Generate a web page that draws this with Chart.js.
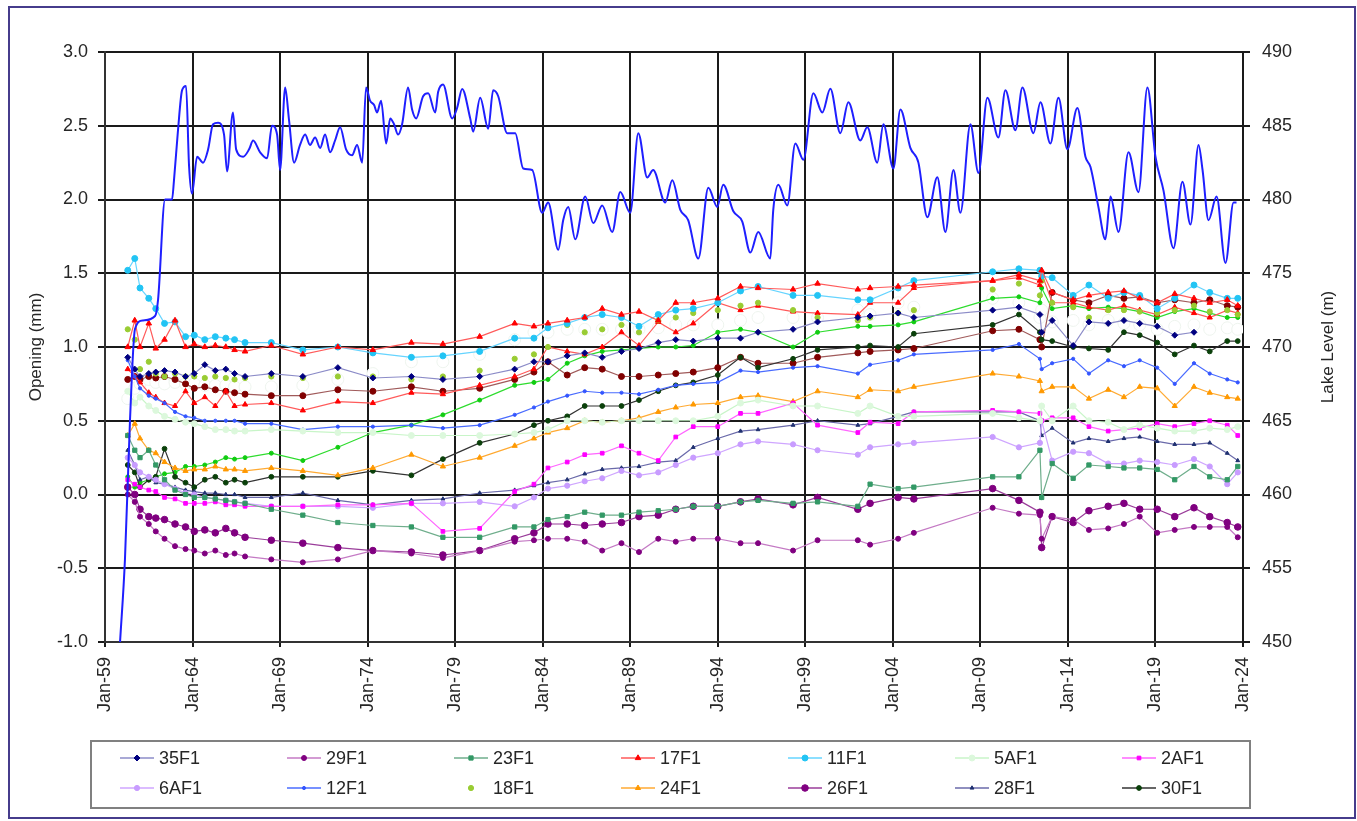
<!DOCTYPE html>
<html>
<head>
<meta charset="utf-8">
<title>Joint opening and lake level</title>
<script src="https://cdn.jsdelivr.net/npm/chart.js@4.4.1/dist/chart.umd.min.js"></script>
<style>
  html, body { margin: 0; padding: 0; background: #fff; }
  canvas { position: absolute; left: 0; top: 0; }
  #frame { position: absolute; left: 8px; top: 6px; width: 1348px; height: 813px; box-sizing: border-box; border: 2px solid #463c8c; pointer-events: none; }
</style>
</head>
<body>
<canvas id="openingChart" width="1357" height="821"></canvas>
<div id="frame"></div>
<script>
// survey dates (decimal years) shared by all the gauges
const surveyDates = [1960.3, 1960.7, 1961.0, 1961.5, 1961.9, 1962.4, 1963.0, 1963.6, 1964.1, 1964.7, 1965.3, 1965.9, 1966.4, 1967.0,
  1968.5, 1970.3, 1972.3, 1974.3, 1976.5, 1978.3, 1980.4, 1982.4, 1983.5, 1984.3, 1985.4, 1986.4, 1987.4, 1988.5, 1989.5, 1990.6,
  1991.6, 1992.6, 1994.0, 1995.3, 1996.3, 1998.3, 1999.7, 2002.0, 2002.7, 2004.3, 2005.2, 2009.7, 2011.2,
  2012.4, 2012.5,
  2013.1, 2014.3, 2015.2, 2016.3, 2017.2, 2018.1, 2019.1, 2020.1, 2021.2, 2022.1, 2023.1, 2023.7];

// opening (mm)
const op35F1 = [0.93, 0.85, 0.80, 0.82, 0.83, 0.84, 0.83, 0.80, 0.82, 0.88, 0.84, 0.85, 0.82, 0.80,
  0.82, 0.80, 0.86, 0.79, 0.80, 0.78, 0.80, 0.85, 0.90, 0.90, 0.94, 0.96, 0.93, 0.97, 0.99, 1.03, 1.05, 1.04, 1.06, 1.06, 1.10, 1.12, 1.17, 1.20, 1.21, 1.23, 1.20, 1.25, 1.27,
  1.22, 1.10,
  1.18, 1.01, 1.17, 1.16, 1.18, 1.16, 1.14, 1.08, 1.10, null, null, null];
const op29F1 = [0.00, -0.05, -0.15, -0.20, -0.25, -0.30, -0.35, -0.37, -0.38, -0.40, -0.38, -0.41, -0.40, -0.42,
  -0.44, -0.46, -0.44, -0.38, -0.40, -0.43, -0.38, -0.32, -0.31, -0.30, -0.30, -0.32, -0.38, -0.33, -0.39, -0.30, -0.32, -0.30, -0.30, -0.33, -0.33, -0.38, -0.31, -0.31, -0.34, -0.30, -0.26, -0.09, -0.13,
  -0.14, -0.30,
  -0.15, -0.17, -0.24, -0.23, -0.20, -0.15, -0.26, -0.24, -0.22, -0.22, -0.22, -0.29];
const op23F1 = [0.40, 0.30, 0.25, 0.30, 0.20, 0.10, 0.03, 0.00, -0.02, -0.02, -0.03, -0.04, -0.05, -0.06,
  -0.10, -0.14, -0.19, -0.21, -0.22, -0.29, -0.29, -0.22, -0.22, -0.17, -0.15, -0.12, -0.14, -0.14, -0.12, -0.11, -0.10, -0.08, -0.08, -0.05, -0.04, -0.06, -0.05, -0.08, 0.07, 0.04, 0.05, 0.12, 0.12,
  0.30, -0.02,
  0.21, 0.11, 0.20, 0.19, 0.18, 0.18, 0.17, 0.10, 0.19, 0.12, 0.10, 0.19];
const op17F1 = [1.00, 1.18, 1.00, 1.16, 0.99, 1.05, 1.18, 1.00, 1.02, 1.00, 1.01, 1.00, 0.98, 0.97,
  1.01, 0.95, 1.00, 0.98, 1.03, 1.02, 1.07, 1.16, 1.14, 1.16, 1.18, 1.20, 1.26, 1.22, 1.24, 1.18, 1.30, 1.30, 1.33, 1.41, 1.40, 1.39, 1.43, 1.39, 1.40, 1.41, 1.42, 1.45, 1.49,
  1.45, 1.52,
  1.37, 1.32, 1.35, 1.37, 1.38, 1.33, 1.30, 1.36, 1.33, 1.30, 1.32, 1.28];
const op11F1 = [1.52, 1.60, 1.40, 1.33, 1.26, 1.16, 1.17, 1.07, 1.08, 1.05, 1.07, 1.06, 1.05, 1.03,
  1.03, 0.98, 1.00, 0.96, 0.93, 0.94, 0.97, 1.06, 1.06, 1.13, 1.16, 1.20, 1.22, 1.20, 1.14, 1.22, 1.25, 1.26, 1.30, 1.38, 1.41, 1.35, 1.35, 1.32, 1.32, 1.40, 1.45, 1.51, 1.53,
  1.52, 1.48,
  1.47, 1.35, 1.42, 1.33, 1.37, 1.35, 1.26, 1.33, 1.42, 1.37, 1.33, 1.33];
const op5AF1 = [0.70, 0.62, 0.66, 0.60, 0.57, 0.53, 0.51, 0.49, 0.48, 0.46, 0.44, 0.44, 0.43, 0.43,
  0.44, 0.43, 0.42, 0.42, 0.40, 0.40, 0.40, 0.41, 0.42, 0.44, 0.50, 0.50, 0.49, 0.50, 0.50, 0.50, 0.50, 0.50, 0.53, 0.62, 0.64, 0.60, 0.60, 0.55, 0.60, 0.53, 0.53, 0.55, 0.52,
  0.50, 0.60,
  0.50, 0.60, 0.50, 0.49, 0.44, 0.47, 0.45, 0.43, 0.43, 0.45, 0.44, 0.46];
const op2AF1 = [0.10, 0.07, 0.05, 0.03, 0.02, -0.02, -0.03, -0.06, -0.06, -0.06, -0.05, -0.07, -0.07, -0.08,
  -0.08, -0.08, -0.07, -0.07, -0.06, -0.25, -0.23, 0.02, 0.07, 0.18, 0.22, 0.27, 0.28, 0.33, 0.28, 0.23, 0.39, 0.46, 0.46, 0.55, 0.55, 0.62, 0.47, 0.42, 0.49, 0.48, 0.56, 0.57, 0.56,
  0.55, 0.50,
  0.52, 0.52, 0.46, 0.43, 0.44, 0.45, 0.48, 0.46, 0.48, 0.50, 0.47, 0.40];
const op6AF1 = [0.25, 0.20, 0.15, 0.12, 0.10, 0.07, 0.04, 0.01, 0.00, -0.02, -0.03, -0.04, -0.05, -0.06,
  -0.08, -0.08, -0.08, -0.09, -0.06, -0.06, -0.05, -0.08, -0.02, 0.04, 0.06, 0.09, 0.11, 0.16, 0.13, 0.15, 0.20, 0.25, 0.28, 0.34, 0.36, 0.34, 0.30, 0.27, 0.32, 0.34, 0.35, 0.39, 0.32,
  0.35, 0.50,
  0.23, 0.29, 0.28, 0.21, 0.21, 0.23, 0.22, 0.20, 0.24, 0.19, 0.07, 0.15];
const op12F1 = [0.91, 0.80, 0.72, 0.67, 0.65, 0.62, 0.56, 0.53, 0.52, 0.50, 0.50, 0.50, 0.50, 0.48,
  0.48, 0.44, 0.46, 0.46, 0.47, 0.45, 0.47, 0.54, 0.59, 0.63, 0.67, 0.70, 0.69, 0.69, 0.68, 0.71, 0.74, 0.75, 0.76, 0.84, 0.83, 0.86, 0.87, 0.82, 0.88, 0.91, 0.95, 0.98, 1.02,
  0.92, 0.85,
  0.89, 0.92, 0.82, 0.91, 0.87, 0.91, 0.86, 0.75, 0.89, 0.82, 0.78, 0.76];
const op18F1 = [1.12, 1.05, 0.85, 0.90, 0.82, 0.80, 0.82, 0.80, 0.80, 0.79, 0.80, 0.79, 0.78, 0.79,
  0.80, 0.79, 0.80, 0.80, 0.78, 0.80, 0.84, 0.92, 0.95, 1.00, 1.15, 1.10, 1.12, 1.15, 1.10, 1.18, 1.20, 1.23, 1.25, 1.28, 1.30, 1.25, 1.20, 1.18, 1.20, 1.23, 1.25, 1.39, 1.43,
  1.35, 1.45,
  1.30, 1.27, 1.20, 1.25, 1.25, 1.24, 1.23, 1.25, 1.28, 1.24, 1.25, 1.22];
const op24F1 = [0.40, 0.48, 0.38, 0.30, 0.28, 0.22, 0.18, 0.16, 0.17, 0.17, 0.19, 0.17, 0.17, 0.16,
  0.18, 0.16, 0.13, 0.18, 0.27, 0.19, 0.25, 0.33, 0.38, 0.42, 0.45, 0.50, 0.49, 0.50, 0.52, 0.56, 0.59, 0.61, 0.62, 0.66, 0.67, 0.63, 0.70, 0.66, 0.71, 0.70, 0.73, 0.82, 0.80,
  0.77, 0.70,
  0.73, 0.73, 0.65, 0.71, 0.66, 0.73, 0.72, 0.60, 0.73, 0.69, 0.66, 0.65];
const op26F1 = [0.05, 0.00, -0.10, -0.15, -0.16, -0.17, -0.20, -0.22, -0.25, -0.24, -0.26, -0.23, -0.26, -0.29,
  -0.31, -0.33, -0.36, -0.38, -0.39, -0.41, -0.38, -0.30, -0.26, -0.20, -0.20, -0.21, -0.20, -0.19, -0.15, -0.14, -0.10, -0.08, -0.08, -0.05, -0.03, -0.07, -0.02, -0.10, -0.06, -0.02, -0.03, 0.04, -0.04,
  -0.12, -0.36,
  -0.15, -0.19, -0.11, -0.08, -0.06, -0.10, -0.10, -0.15, -0.09, -0.15, -0.19, -0.22];
const op28F1 = [0.30, 0.20, 0.10, 0.12, 0.08, 0.07, 0.05, 0.03, 0.02, 0.01, 0.01, 0.00, 0.00, -0.02,
  -0.02, 0.01, -0.04, -0.07, -0.04, -0.03, 0.01, 0.03, 0.06, 0.08, 0.10, 0.14, 0.17, 0.18, 0.19, 0.22, 0.23, 0.32, 0.38, 0.43, 0.44, 0.47, 0.50, 0.47, 0.48, 0.53, 0.56, 0.56, 0.56,
  0.50, 0.40,
  0.45, 0.35, 0.38, 0.36, 0.38, 0.39, 0.36, 0.34, 0.34, 0.35, 0.28, 0.23];
const op30F1 = [0.20, 0.15, 0.05, 0.10, 0.12, 0.31, 0.12, 0.08, 0.05, 0.10, 0.12, 0.08, 0.10, 0.08,
  0.12, 0.12, 0.12, 0.16, 0.13, 0.24, 0.35, 0.41, 0.47, 0.50, 0.53, 0.60, 0.60, 0.60, 0.64, 0.70, 0.74, 0.76, 0.81, 0.93, 0.86, 0.92, 0.98, 1.00, 1.01, 1.00, 1.09, 1.15, 1.22,
  1.10, 1.05,
  1.04, 1.00, 0.99, 0.98, 1.10, 1.08, 1.03, 0.95, 1.01, 0.97, 1.04, 1.04];
// gauges plotted in the figure but missing from its legend
const opRedLow = [0.85, 0.80, 0.76, 0.69, 0.66, 0.62, 0.60, 0.70, 0.62, 0.66, 0.60, 0.70, 0.60, 0.61,
  0.62, 0.57, 0.63, 0.62, 0.69, 0.68, 0.74, 0.80, 0.85, 1.00, 0.97, 0.95, 1.00, 1.10, 1.01, 1.17, 1.10, 1.16, 1.30, 1.25, 1.28, 1.24, 1.23, 1.22, 1.30, 1.30, 1.40, 1.45, 1.47,
  1.42, 1.50,
  1.30, 1.30, 1.27, 1.25, 1.28, 1.25, 1.22, 1.27, 1.23, 1.20, 1.25, 1.23];
const opMaroon = [0.78, 0.80, 0.78, 0.80, 0.79, 0.80, 0.78, 0.75, 0.72, 0.73, 0.71, 0.70, 0.69, 0.68,
  0.67, 0.67, 0.71, 0.70, 0.73, 0.70, 0.72, 0.78, 0.83, 0.90, 0.81, 0.86, 0.85, 0.80, 0.80, 0.81, 0.82, 0.83, 0.86, 0.93, 0.89, 0.89, 0.93, 0.96, 0.97, 0.98, 0.99, 1.11, 1.12,
  1.05, 1.00,
  1.37, 1.32, 1.30, 1.35, 1.33, 1.34, 1.30, 1.32, 1.30, 1.32, 1.28, 1.27];
const opLime = [0.12, 0.05, 0.08, 0.10, 0.12, 0.14, 0.15, 0.19, 0.19, 0.20, 0.22, 0.25, 0.24, 0.25,
  0.28, 0.23, 0.32, 0.42, 0.47, 0.54, 0.64, 0.74, 0.76, 0.78, 0.89, 0.94, 0.97, 0.98, 0.99, 1.00, 1.00, 1.01, 1.10, 1.12, 1.10, 1.00, 1.10, 1.14, 1.14, 1.15, 1.17, 1.33, 1.34,
  1.30, 1.40,
  1.26, 1.28, 1.26, 1.27, 1.26, 1.24, 1.20, 1.24, 1.26, 1.23, 1.20, 1.20];
const opWhite = [0.65, 0.72, 0.75, 0.78, 0.76, 0.75, 0.76, 0.75, 0.75, 0.74, 0.74, 0.74, 0.73, 0.73,
  0.73, 0.74, 0.78, 0.82, 0.90, 0.90, 0.95, 1.05, 1.10, 1.10, 1.12, 1.12, 1.12, 1.12, 1.12, 1.13, 1.15, 1.15, 1.15, 1.18, 1.20, 1.20, 1.20, 1.25, 1.22, 1.30, 1.27, 1.33, 1.30,
  1.20, 1.25,
  1.17, 1.18, 1.15, 1.18, 1.16, 1.15, 1.12, 1.14, 1.15, 1.12, 1.13, 1.12];

// reservoir level (m), right axis
const lakeDates = [1959.86, 1960.14, 1960.43, 1960.71, 1961.17, 1961.86, 1962.03, 1962.43, 1962.83, 1962.94,
  1963.17, 1963.40, 1963.63, 1963.80, 1963.97, 1964.26, 1964.60, 1964.89, 1965.17, 1965.46,
  1965.80, 1965.97, 1966.31, 1966.49, 1966.89, 1967.23, 1967.46, 1967.86, 1968.26, 1968.54,
  1968.83, 1969.00, 1969.29, 1969.51, 1969.80, 1970.14, 1970.43, 1970.71, 1971.00, 1971.29,
  1971.57, 1971.86, 1972.14, 1972.43, 1972.77, 1973.11, 1973.40, 1973.69, 1973.91, 1974.14,
  1974.37, 1974.54, 1974.77, 1975.06, 1975.29, 1975.51, 1975.74, 1975.97, 1976.31, 1976.54,
  1976.77, 1977.17, 1977.46, 1977.86, 1978.03, 1978.31, 1978.83, 1979.11, 1979.40, 1979.86,
  1980.03, 1980.43, 1980.89, 1981.17, 1981.46, 1981.97, 1982.43, 1982.89, 1983.40, 1983.97,
  1984.31, 1984.89, 1985.17, 1985.46, 1985.86, 1986.43, 1986.89, 1987.40, 1987.97, 1988.43,
  1989.00, 1989.46, 1989.97, 1990.31, 1991.00, 1991.40, 1991.86, 1992.31, 1992.89, 1993.46,
  1993.97, 1994.31, 1994.89, 1995.40, 1995.86, 1996.31, 1997.00, 1997.17, 1997.46, 1997.97,
  1998.43, 1998.89, 1999.46, 1999.97, 2000.43, 2001.00, 2001.46, 2002.14, 2002.54, 2003.11,
  2003.46, 2004.03, 2004.43, 2005.00, 2005.46, 2005.97, 2006.54, 2007.00, 2007.46, 2007.86,
  2008.43, 2008.89, 2009.40, 2010.03, 2010.43, 2011.00, 2011.40, 2012.03, 2012.43, 2013.00,
  2013.46, 2013.97, 2014.54, 2015.00, 2015.29, 2015.74, 2016.14, 2016.43, 2016.89, 2017.46,
  2018.03, 2018.54, 2019.00, 2019.46, 2020.03, 2020.54, 2021.00, 2021.46, 2021.69, 2022.03,
  2022.49, 2023.00, 2023.46, 2023.63];
const lakeLevels = [450.0, 455.6, 465.1, 471.2, 471.8, 472.1, 473.2, 480.0, 480.0, 481.3,
  484.7, 487.4, 487.7, 482.3, 480.4, 482.9, 482.5, 483.4, 485.1, 485.2,
  484.4, 481.9, 485.9, 483.4, 482.9, 483.4, 484.0, 483.2, 482.8, 485.0,
  484.4, 482.0, 487.6, 485.4, 482.5, 483.7, 484.4, 483.7, 484.2, 483.5,
  484.4, 483.2, 484.0, 484.9, 483.4, 483.0, 483.7, 482.5, 487.6, 486.7,
  486.4, 485.9, 486.7, 483.8, 485.5, 485.1, 484.4, 485.1, 487.6, 486.1,
  485.5, 487.0, 487.2, 485.9, 487.3, 487.8, 485.5, 486.2, 487.5, 485.5,
  484.6, 486.9, 484.8, 487.4, 487.0, 484.5, 484.5, 482.1, 482.0, 479.1,
  479.8, 476.6, 478.6, 479.5, 477.3, 480.2, 478.4, 479.6, 477.8, 480.5,
  479.1, 484.5, 481.5, 482.0, 479.8, 481.3, 479.3, 478.6, 476.0, 480.8,
  479.5, 481.0, 479.2, 478.5, 476.4, 477.8, 476.0, 479.3, 481.0, 479.6,
  483.8, 482.7, 487.2, 485.9, 487.5, 484.5, 486.6, 484.0, 484.9, 482.5,
  485.1, 482.1, 486.1, 483.5, 482.5, 478.8, 481.5, 477.8, 482.0, 479.1,
  485.1, 481.8, 486.9, 484.2, 487.4, 484.7, 487.6, 484.5, 486.6, 483.8,
  486.9, 483.4, 486.2, 482.9, 482.2, 479.5, 477.3, 480.2, 477.8, 483.2,
  480.5, 487.6, 482.9, 480.6, 476.7, 481.2, 478.3, 483.7, 482.0, 478.6,
  480.2, 475.7, 479.8, 479.8];

const legendNames = ['35F1', '29F1', '23F1', '17F1', '11F1', '5AF1', '2AF1',
  '6AF1', '12F1', '18F1', '24F1', '26F1', '28F1', '30F1'];

const fontFamily = '"Liberation Sans", Arial, sans-serif';
const textColor = '#262626';
Chart.defaults.font.family = fontFamily;
Chart.defaults.color = textColor;

const toPoints = vals => surveyDates.map((d, i) => ({ x: d, y: vals[i] }));

function gauge(label, vals, line, mark, style, radius) {
  return {
    label: label,
    data: toPoints(vals),
    yAxisID: 'y',
    borderColor: line,
    borderWidth: 1.2,
    pointBackgroundColor: mark,
    pointBorderColor: mark,
    pointBorderWidth: 1,
    pointStyle: style,
    pointRadius: radius,
    spanGaps: true,
    order: 2
  };
}

const whiteMarks = gauge('white', opWhite, '#ffffff', '#ffffff', 'circle', 6);
whiteMarks.showLine = false;
whiteMarks.pointBorderColor = '#eef4ee';
whiteMarks.order = 30;

const dots18F1 = gauge('18F1', op18F1, '#99cc33', '#99cc33', 'circle', 2.6);
dots18F1.showLine = false;

const lake = {
  label: 'Lake level',
  data: lakeDates.map((d, i) => ({ x: d, y: lakeLevels[i] })),
  yAxisID: 'y2',
  borderColor: '#1f1fff',
  borderWidth: 2,
  pointRadius: 0,
  cubicInterpolationMode: 'monotone',
  order: 0
};

// custom legend box (fixed 7 columns) and the right-hand title reading upwards
const boxLegend = {
  id: 'boxLegend',
  afterDraw(chart) {
    const ctx = chart.ctx;
    ctx.save();
    ctx.strokeStyle = '#808080';
    ctx.lineWidth = 2;
    ctx.strokeRect(91, 741, 1159, 67);
    ctx.font = '18px ' + fontFamily;
    ctx.textBaseline = 'middle';
    ctx.textAlign = 'left';
    legendNames.forEach((name, i) => {
      const ds = chart.data.datasets.find(d => d.label === name);
      const x = 120 + (i % 7) * 167;
      const y = i < 7 ? 758 : 788;
      if (ds.showLine !== false) {
        ctx.strokeStyle = ds.borderColor;
        ctx.lineWidth = 1.5;
        ctx.beginPath();
        ctx.moveTo(x, y);
        ctx.lineTo(x + 34, y);
        ctx.stroke();
      }
      ctx.fillStyle = ds.pointBackgroundColor;
      ctx.strokeStyle = ds.pointBorderColor;
      ctx.lineWidth = 1;
      if (Chart.helpers && Chart.helpers.drawPoint) {
        Chart.helpers.drawPoint(ctx, { pointStyle: ds.pointStyle, radius: ds.pointRadius, rotation: 0, borderWidth: 1 }, x + 17, y);
      } else {
        ctx.beginPath();
        ctx.arc(x + 17, y, ds.pointRadius, 0, Math.PI * 2);
        ctx.fill();
      }
      ctx.fillStyle = textColor;
      ctx.fillText(name, x + 39, y + 1);
    });
    const area = chart.chartArea;
    ctx.translate(1328, (area.top + area.bottom) / 2);
    ctx.rotate(-Math.PI / 2);
    ctx.textAlign = 'center';
    ctx.font = '17px ' + fontFamily;
    ctx.fillText('Lake Level (m)', 0, 0);
    ctx.restore();
  }
};

const gridLine = { color: '#1a1a1a', lineWidth: 2 };

new Chart(document.getElementById('openingChart'), {
  type: 'line',
  data: {
    datasets: [
      lake,
      gauge('35F1', op35F1, '#8c8cc8', '#000080', 'rectRot', 3),
      gauge('29F1', op29F1, '#c47ac4', '#800080', 'circle', 2.5),
      gauge('23F1', op23F1, '#6fae8c', '#339966', 'rect', 3),
      gauge('17F1', op17F1, '#ff5a5a', '#ff0000', 'triangle', 3.2),
      gauge('11F1', op11F1, '#66d4ff', '#22c4f4', 'circle', 3),
      gauge('5AF1', op5AF1, '#c8f5c8', '#dcf8dc', 'circle', 3),
      gauge('2AF1', op2AF1, '#ff66ff', '#ff00ff', 'rect', 2.6),
      gauge('6AF1', op6AF1, '#cfa6ff', '#c89cff', 'circle', 2.6),
      gauge('12F1', op12F1, '#4a6cff', '#3355ff', 'circle', 1.6),
      dots18F1,
      gauge('24F1', op24F1, '#ffaa33', '#ff9900', 'triangle', 3),
      gauge('26F1', op26F1, '#9a3d9a', '#800080', 'circle', 3.3),
      gauge('28F1', op28F1, '#6a6aaa', '#1f3070', 'triangle', 2.2),
      gauge('30F1', op30F1, '#333333', '#0a400a', 'circle', 2.4),
      gauge('red-2', opRedLow, '#ff5a5a', '#ff0000', 'triangle', 3),
      gauge('maroon', opMaroon, '#a05a5a', '#800000', 'circle', 3),
      gauge('lime', opLime, '#2edc2e', '#11cc11', 'circle', 2),
      whiteMarks
    ]
  },
  options: {
    responsive: false,
    animation: false,
    layout: { padding: { top: 52, left: 0, right: 0, bottom: 0 } },
    plugins: {
      legend: { display: false },
      tooltip: { enabled: false }
    },
    scales: {
      x: {
        type: 'linear',
        min: 1959,
        max: 2024,
        ticks: {
          stepSize: 5,
          autoSkip: false,
          minRotation: 90,
          maxRotation: 90,
          padding: 10,
          font: { size: 18 },
          callback: v => 'Jan-' + String(Math.round(v) % 100).padStart(2, '0')
        },
        grid: { ...gridLine, tickLength: 5 },
        border: { color: '#333', width: 2 },
        afterFit(scale) { scale.height = 179; }
      },
      y: {
        position: 'left',
        min: -1,
        max: 3,
        ticks: { stepSize: 0.5, padding: 10, font: { size: 18 }, callback: v => v.toFixed(1) },
        grid: { ...gridLine, tickLength: 7 },
        border: { color: '#333', width: 2 },
        title: { display: true, text: 'Opening (mm)', font: { size: 17 }, padding: { top: 26, bottom: 0 } },
        afterFit(scale) { scale.width = 105; }
      },
      y2: {
        position: 'right',
        min: 450,
        max: 490,
        ticks: { stepSize: 5, padding: 12, font: { size: 18 } },
        grid: { ...gridLine, drawOnChartArea: false, tickLength: 7 },
        border: { color: '#1a1a1a', width: 2 },
        afterFit(scale) { scale.width = 114; }
      }
    }
  },
  plugins: [boxLegend]
});
</script>
</body>
</html>
